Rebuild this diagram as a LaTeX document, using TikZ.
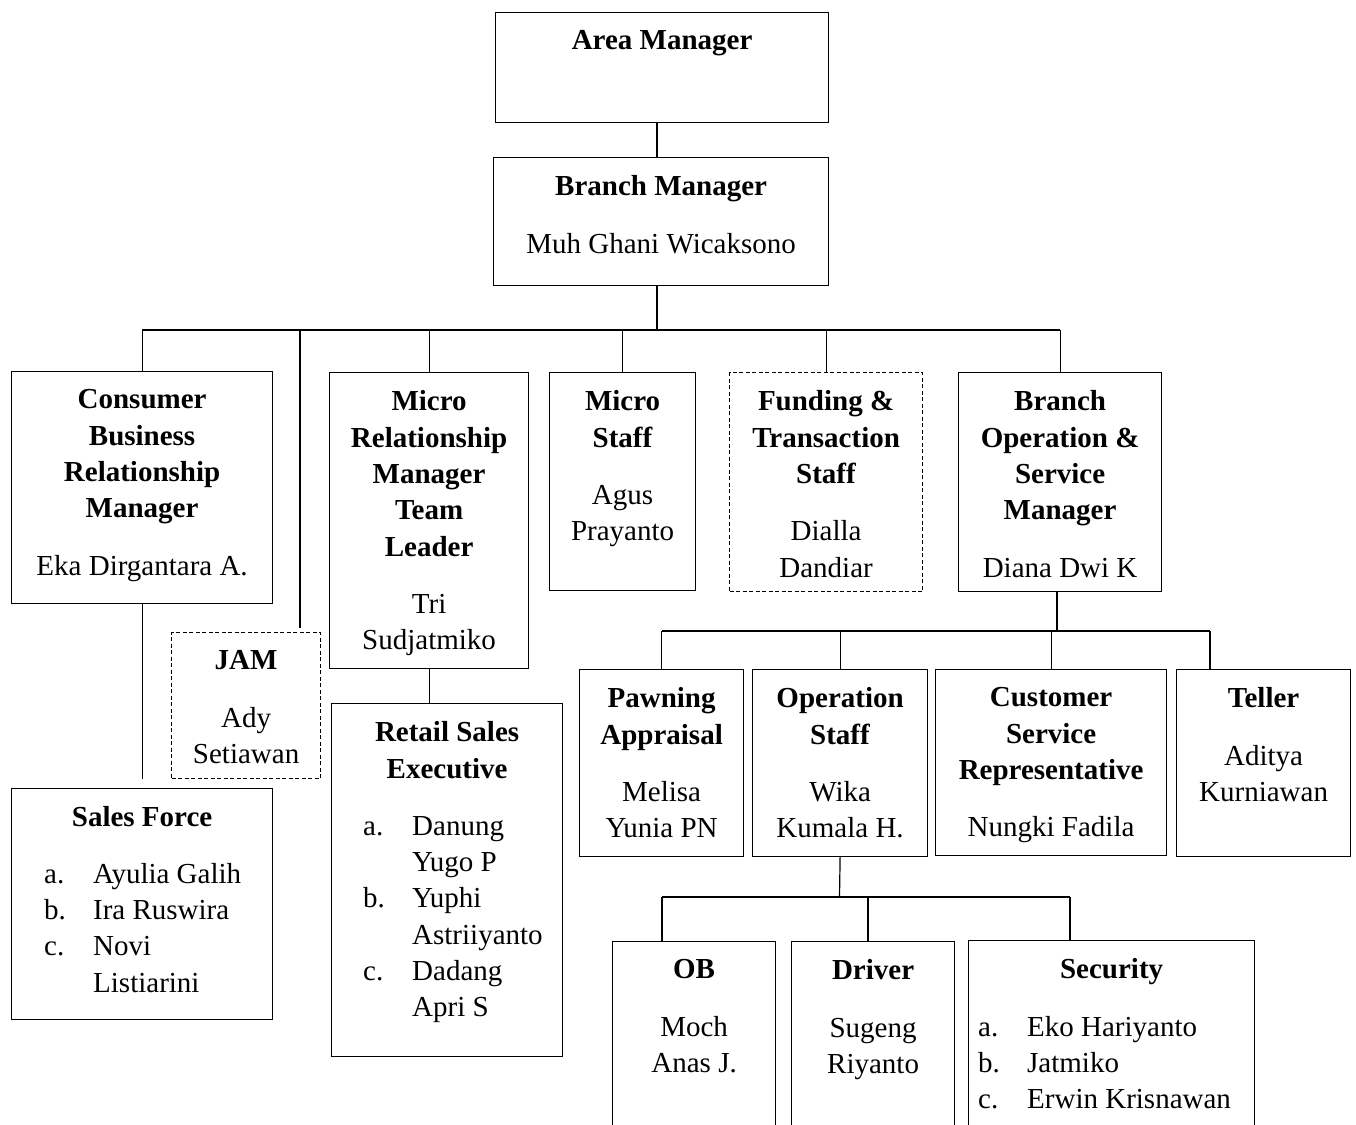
\documentclass[tikz,border=0pt]{standalone}
\usepackage{fontspec}
\setmainfont{Liberation Serif}
\usetikzlibrary{positioning}

\tikzset{
  box/.style={draw, line width=1.2pt, inner sep=0pt, anchor=north west},
  dashbox/.style={box, dash pattern=on 4pt off 2.5pt},
  ttl/.style={align=center, anchor=north, inner sep=0pt, font=\fontsize{29}{36.3}\selectfont},
  lst/.style={align=left, anchor=north west, inner sep=0pt, font=\fontsize{29}{36.3}\selectfont},
  wire/.style={line width=1.2pt}
}
\newcommand{\lbl}[1]{\makebox[49pt][l]{#1}}

\begin{document}
\begin{tikzpicture}[x=1pt,y=-1pt]
        \useasboundingbox (0,0) rectangle (1356,1124);
        \clip (0,0) rectangle (1356,1124);

        \node[box, minimum width=333pt, minimum height=110pt] (area) at (495,12) {};
        \node[box, minimum width=335pt, minimum height=128pt] (bm) at (493,157) {};
        \node[box, minimum width=261pt, minimum height=232pt] (cbrm) at (11,371) {};
        \node[dashbox, minimum width=149pt, minimum height=146pt] (jam) at (171,632) {};
        \node[box, minimum width=199pt, minimum height=296pt] (mrm) at (329,372) {};
        \node[box, minimum width=146pt, minimum height=218pt] (ms) at (549,372) {};
        \node[dashbox, minimum width=193pt, minimum height=219pt] (fts) at (729,372) {};
        \node[box, minimum width=203pt, minimum height=219pt] (bosm) at (958,372) {};
        \node[box, minimum width=261pt, minimum height=231pt] (sf) at (11,788) {};
        \node[box, minimum width=231pt, minimum height=353pt] (rse) at (331,703) {};
        \node[box, minimum width=164pt, minimum height=187pt] (pa) at (579,669) {};
        \node[box, minimum width=175pt, minimum height=187pt] (os) at (752,669) {};
        \node[box, minimum width=231pt, minimum height=186pt] (csr) at (935,669) {};
        \node[box, minimum width=174pt, minimum height=187pt] (tel) at (1176,669) {};
        \node[box, minimum width=163pt, minimum height=200pt] (ob) at (612,941) {};
        \node[box, minimum width=163pt, minimum height=200pt] (drv) at (791,941) {};
        \node[box, minimum width=286pt, minimum height=201pt] (sec) at (968,940) {};

        \node[ttl, below=18.5pt of area.north] (area-t) {\textbf{Area Manager}};
        \node[ttl, below=18.5pt of bm.north] (bm-t) {\textbf{Branch Manager}\\[21pt]Muh Ghani Wicaksono};
        \node[ttl, below=18.5pt of cbrm.north] (cbrm-t) {\textbf{Consumer}\\\textbf{Business}\\\textbf{Relationship}\\\textbf{Manager}\\[21pt]Eka Dirgantara A.};
        \node[ttl, below=18.5pt of jam.north] (jam-t) {\textbf{JAM}\\[21pt]Ady\\Setiawan};
        \node[ttl, below=18.5pt of mrm.north] (mrm-t) {\textbf{Micro}\\\textbf{Relationship}\\\textbf{Manager}\\\textbf{Team}\\\textbf{Leader}\\[21pt]Tri\\Sudjatmiko};
        \node[ttl, below=18.5pt of ms.north] (ms-t) {\textbf{Micro}\\\textbf{Staff}\\[21pt]Agus\\Prayanto};
        \node[ttl, below=18.5pt of fts.north] (fts-t) {\textbf{Funding \&}\\\textbf{Transaction}\\\textbf{Staff}\\[21pt]Dialla\\Dandiar};
        \node[ttl, below=18.5pt of bosm.north] (bosm-t) {\textbf{Branch}\\\textbf{Operation \&}\\\textbf{Service}\\\textbf{Manager}\\[21pt]Diana Dwi K};
        \node[ttl, below=18.5pt of sf.north] (sf-t) {\textbf{Sales Force}};
        \node[lst, below right=75pt and 33pt of sf.north west] (sf-l) {\lbl{a.}Ayulia Galih\\\lbl{b.}Ira Ruswira\\\lbl{c.}Novi\\\hspace*{49pt}Listiarini};
        \node[ttl, below=18.5pt of rse.north] (rse-t) {\textbf{Retail Sales}\\\textbf{Executive}};
        \node[lst, below right=113pt and 32pt of rse.north west] (rse-l) {\lbl{a.}Danung\\\hspace*{49pt}Yugo P\\\lbl{b.}Yuphi\\\hspace*{49pt}Astriiyanto\\\lbl{c.}Dadang\\\hspace*{49pt}Apri S};
        \node[ttl, below=18.5pt of pa.north] (pa-t) {\textbf{Pawning}\\\textbf{Appraisal}\\[21pt]Melisa\\Yunia PN};
        \node[ttl, below=18.5pt of os.north] (os-t) {\textbf{Operation}\\\textbf{Staff}\\[21pt]Wika\\Kumala H.};
        \node[ttl, below=18.5pt of csr.north] (csr-t) {\textbf{Customer}\\\textbf{Service}\\\textbf{Representative}\\[21pt]Nungki Fadila};
        \node[ttl, below=18.5pt of tel.north] (tel-t) {\textbf{Teller}\\[21pt]Aditya\\Kurniawan};
        \node[ttl, below=18.5pt of ob.north] (ob-t) {\textbf{OB}\\[21pt]Moch\\Anas J.};
        \node[ttl, below=18.5pt of drv.north] (drv-t) {\textbf{Driver}\\[21pt]Sugeng\\Riyanto};
        \node[ttl, below=18.5pt of sec.north] (sec-t) {\textbf{Security}};
        \node[lst, below right=76pt and 10pt of sec.north west] (sec-l) {\lbl{a.}Eko Hariyanto\\\lbl{b.}Jatmiko\\\lbl{c.}Erwin Krisnawan};

        \coordinate (bus1) at (657,330);
        \coordinate (bus2) at (1057,631);
        \coordinate (bus3) at (839.5,897);
        \coordinate (jamtap) at (300,628);
        \coordinate (teltap) at (1210,669);
        \coordinate (obtap) at (662,941);
        \coordinate (drvtap) at (868,941);
        \coordinate (sectap) at (1070,940);

        \draw[wire] (area.south -| bus1) -- (bm.north -| bus1);
        \draw[wire] (bm.south -| bus1) -- (bus1);
        \draw[wire] (cbrm.north |- bus1) -- (bosm.north |- bus1);
        \foreach \n in {cbrm,mrm,ms,fts,bosm}
            \draw[wire] (\n.north) -- (\n.north |- bus1);
        \draw[wire] (jamtap |- bus1) -- (jamtap);
        \draw[wire] (cbrm.south) -- ([yshift=9pt]sf.north);
        \draw[wire] (mrm.south) -- (mrm.south |- rse.north);

        \draw[wire] (bosm.south -| bus2) -- (bus2);
        \draw[wire] (pa.north |- bus2) -- (teltap |- bus2);
        \foreach \n in {pa,os,csr}
            \draw[wire] (\n.north) -- (\n.north |- bus2);
        \draw[wire] (teltap) -- (teltap |- bus2);

        \draw[wire] (os.south) -- (bus3);
        \draw[wire] (obtap |- bus3) -- (sectap |- bus3);
        \foreach \c in {obtap,drvtap,sectap}
            \draw[wire] (\c) -- (\c |- bus3);
\end{tikzpicture}
\end{document}
